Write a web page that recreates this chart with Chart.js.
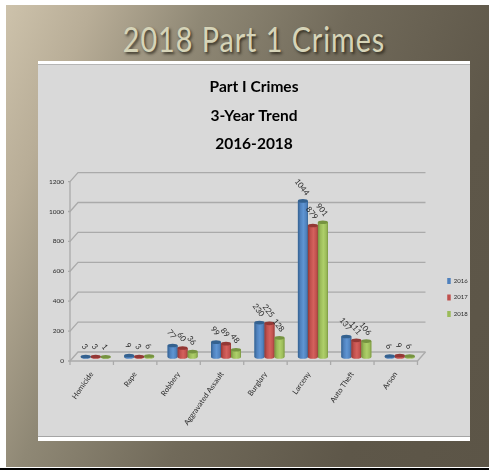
<!DOCTYPE html>
<html>
<head>
<meta charset="utf-8">
<title>2018 Part 1 Crimes</title>
<script src="https://cdn.jsdelivr.net/npm/chart.js@4/dist/chart.umd.min.js"></script>
<style>
    html, body { margin: 0; padding: 0; background: #fff; overflow: hidden; }
    #slide { position: relative; width: 489px; height: 470px; overflow: hidden; }
    #bg {
        position: absolute; left: 6px; top: 5px; width: 483px; height: 462px;
        background: linear-gradient(112deg, #cdc2ab 0%, #b8ad97 13%, #8f8875 30%, #716a5a 52%, #5e5749 78%, #5c5547 100%);
    }
    #rule { position: absolute; left: 0; top: 468px; width: 489px; height: 2px; background: #000; }
    #heading {
        position: absolute; left: 38px; width: 432px; top: 17px; text-align: center;
        font: 400 35px Lato, sans-serif; letter-spacing: 1.2px; color: #d6d4b8;
        text-shadow: 2px 2px 3px rgba(30, 25, 15, 0.75);
        transform: scaleX(0.82);
    }
    #panel {
        position: absolute; left: 38px; top: 61px; width: 432px; height: 380px; background: #fff;
    }
    #panelFill {
        position: absolute; left: 0; top: 3px; width: 432px; height: 373px; background: #d9d9d9;
        border-top: 1px solid #b5b5b5; border-bottom: 1px solid #a5a5a5; box-sizing: border-box;
    }
    #chartBox { position: absolute; left: 0; top: 0; width: 489px; height: 470px; }
</style>
</head>
<body>
<div id="slide">
    <div id="bg"></div>
    <div id="rule"></div>
    <div id="heading">2018 Part 1 Crimes</div>
    <div id="panel"><div id="panelFill"></div></div>
    <div id="chartBox"><canvas id="crimeChart" width="489" height="470"></canvas></div>
</div>
<script>
const categories = ['Homicide', 'Rape', 'Robbery', 'Aggravated Assault', 'Burglary', 'Larceny', 'Auto Theft', 'Arson'];
const values2016 = [3, 9, 77, 99, 230, 1044, 137, 6];
const values2017 = [3, 3, 60, 89, 225, 879, 111, 9];
const values2018 = [1, 6, 36, 48, 128, 901, 106, 6];
const yTicks = [0, 200, 400, 600, 800, 1000, 1200];

const FONT = 'Lato, sans-serif';
const GRID = '#aaaaaa';

// depth of the fake 3D box: bars stand halfway between front and back
const DEPTH_X = 4;
const DEPTH_Y = 4.5;

// paints the box walls, floor and ticks behind the bars
const boxPlugin = {
    id: 'box',
    afterLayout(chart) {
        // legend sits level with the lower part of the plot
        chart.legend.top += 62.5;
        chart.legend.bottom += 62.5;
    },
    beforeDatasetsDraw(chart) {
        const ctx = chart.ctx;
        const front = chart.scales.yFront;
        const left = chart.chartArea.left - DEPTH_X;
        const right = chart.chartArea.right - DEPTH_X;
        ctx.save();
        ctx.strokeStyle = GRID;
        ctx.lineWidth = 1.3;
        yTicks.forEach(v => {
            const y = front.getPixelForValue(v);
            ctx.beginPath();
            ctx.moveTo(left - 2, y);
            ctx.lineTo(left, y);
            ctx.lineTo(left + 2 * DEPTH_X, y - 2 * DEPTH_Y);
            ctx.lineTo(right + 2 * DEPTH_X, y - 2 * DEPTH_Y);
            ctx.stroke();
        });
        const y0 = front.getPixelForValue(0);
        const yTop = front.getPixelForValue(1200);
        ctx.beginPath();
        ctx.moveTo(left, yTop);
        ctx.lineTo(left, y0);
        ctx.lineTo(right, y0);
        ctx.lineTo(right + 2 * DEPTH_X, y0 - 2 * DEPTH_Y);
        ctx.stroke();
        // category separators under the floor
        const step = (right - left) / categories.length;
        categories.concat(['']).forEach((c, i) => {
            ctx.beginPath();
            ctx.moveTo(left + i * step, y0);
            ctx.lineTo(left + i * step, y0 + 4);
            ctx.stroke();
        });
        ctx.restore();
    }
};

// turns the flat bars into cylinders and writes the tilted value labels
const cylinderPlugin = {
    id: 'cylinder',
    afterDatasetsDraw(chart) {
        const ctx = chart.ctx;
        chart.data.datasets.forEach((ds, i) => {
            chart.getDatasetMeta(i).data.forEach(bar => {
                const l = bar.x - bar.width / 2;
                const r = bar.x + bar.width / 2;
                const g = ctx.createLinearGradient(l, 0, r, 0);
                g.addColorStop(0, ds.shade);
                g.addColorStop(0.25, ds.backgroundColor);
                g.addColorStop(0.55, ds.light);
                g.addColorStop(0.85, ds.backgroundColor);
                g.addColorStop(1, ds.shade);
                ctx.save();
                ctx.fillStyle = g;
                ctx.beginPath();
                ctx.moveTo(l, bar.y);
                ctx.lineTo(l, bar.base);
                ctx.ellipse(bar.x, bar.base, bar.width / 2, 1.8, 0, Math.PI, 0, true);
                ctx.lineTo(r, bar.y);
                ctx.closePath();
                ctx.fill();
                ctx.fillStyle = ds.shade;
                ctx.beginPath();
                ctx.ellipse(bar.x, bar.y, bar.width / 2, 1.8, 0, 0, Math.PI * 2);
                ctx.fill();
                ctx.restore();
            });
        });
        chart.data.datasets.forEach((ds, i) => {
            chart.getDatasetMeta(i).data.forEach((bar, j) => {
                const text = String(ds.data[j]);
                ctx.save();
                ctx.translate(bar.x - 1, bar.y - 8.5 - text.length * 1.3);
                ctx.rotate(52 * Math.PI / 180);
                ctx.font = '8px ' + FONT;
                ctx.fillStyle = '#2a2a2a';
                ctx.textAlign = 'center';
                ctx.textBaseline = 'middle';
                ctx.fillText(text, 0, 0);
                ctx.restore();
            });
        });
    }
};

document.addEventListener('DOMContentLoaded', function() {
    const ctx = document.getElementById('crimeChart').getContext('2d');
    new Chart(ctx, {
        type: 'bar',
        data: {
            labels: categories,
            datasets: [
                { label: '2016', data: values2016, backgroundColor: '#4f81bd', shade: '#34618f', light: '#5f95d3' },
                { label: '2017', data: values2017, backgroundColor: '#c0504d', shade: '#933835', light: '#d4615d' },
                { label: '2018', data: values2018, backgroundColor: '#9bbb59', shade: '#769340', light: '#aecf6a' }
            ]
        },
        options: {
            responsive: false,
            animation: false,
            layout: { padding: { left: 30.35, right: 11.35, top: 0, bottom: 0 } },
            datasets: { bar: { categoryPercentage: 0.69, barPercentage: 1 } },
            scales: {
                x: {
                    grid: { display: false },
                    border: { display: false },
                    afterFit(scale) { scale.height = 109; },
                    ticks: {
                        autoSkip: false,
                        minRotation: 55,
                        maxRotation: 55,
                        padding: 1,
                        labelOffset: -DEPTH_X,
                        color: '#2a2a2a',
                        font: { family: FONT, size: 7.5 }
                    }
                },
                // value axis of the bars, its zero sits a little above the front edge
                y: {
                    display: false,
                    min: -27,
                    max: 1200
                },
                // printed axis on the front edge of the box
                yFront: {
                    position: 'left',
                    min: 0,
                    max: 1227,
                    grid: { display: false, drawTicks: false },
                    border: { display: false },
                    afterBuildTicks(scale) { scale.ticks = yTicks.map(v => ({ value: v })); },
                    afterFit(scale) { scale.width = 43.65; },
                    ticks: {
                        padding: 10,
                        color: '#2a2a2a',
                        font: { family: FONT, size: 6.5 },
                        callback: v => String(v)
                    }
                },
                // keeps the gap between the box and the legend
                spacer: {
                    position: 'right',
                    grid: { display: false },
                    border: { display: false },
                    ticks: { display: false },
                    afterFit(scale) { scale.width = 15.25; }
                }
            },
            plugins: {
                title: {
                    display: true,
                    text: ['Part I Crimes', '3-Year Trend', '2016-2018'],
                    color: '#000000',
                    font: { family: FONT, size: 15.5, weight: 'bold', lineHeight: 1.84 },
                    padding: { top: 73, bottom: 19 }
                },
                legend: {
                    position: 'right',
                    labels: {
                        boxWidth: 3.5,
                        boxHeight: 6,
                        padding: 10.5,
                        color: '#2a2a2a',
                        font: { family: FONT, size: 6 }
                    }
                },
                tooltip: { enabled: false }
            }
        },
        plugins: [boxPlugin, cylinderPlugin]
    });
});
</script>
</body>
</html>
